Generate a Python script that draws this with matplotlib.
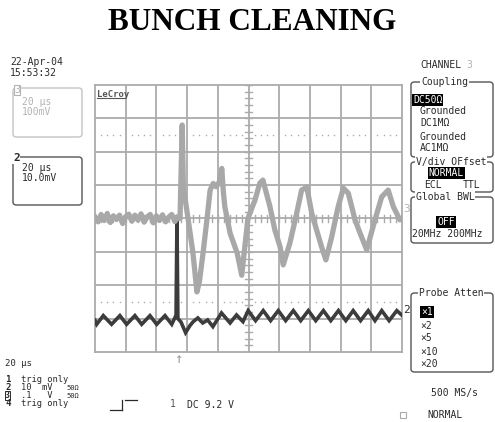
import matplotlib.pyplot as plt
from matplotlib.patches import FancyBboxPatch, Rectangle
from matplotlib.lines import Line2D

W, H = 495, 422

# channel 3 (100 mV/div, ground at centre line)
ch3_t = [0, 2, 4, 6, 8, 10, 12, 14, 16, 18, 20, 22, 24, 26, 28, 30, 32, 34, 36, 38,
         40, 42, 44, 46, 48, 50, 52, 54,
         55.4, 56.8, 57.6, 60.6, 63.8, 66.4, 68.0, 70.4, 73.0, 75.0, 77.0, 79.0,
         81.0, 82.6, 83.6, 84.6, 88.0, 92.6, 95.6, 99.6, 104.2, 107.4, 109.4, 114.0,
         117.2, 120.6, 122.6, 127.0, 131.4, 134.6, 138.0, 141.2, 144.4, 147.6, 150.4,
         154.2, 158.4, 161.8, 165.0, 169.4, 172.6, 177.0, 182.4, 186.8, 191.0, 194.4,
         198.6, 200]
ch3_mv = [5, -10, 12, -6, 15, -12, 8, -3, 10, -15, 6, 13, -8, 10, -5, 14, -11, 5, 12, -13,
          8, -6, 11, -10, 4, 12, -9, 6,
          0, 280, 94, 0, -103, -220, -190, -103, 0, 85, 105, 95,
          110, 150, 80, 35, -44, -103, -170, 0, 55, 106, 115, 35,
          -35, -85, -139, -73, 16, 85, 94, 16, -35, -85, -124,
          -55, 35, 91, 76, -4, -43, -94, -4, 65, 85, 35,
          -4, 0]

# channel 2 (10 mV/div, ground three divisions below centre)
ch2_t = [0, 1.1, 5.4, 10.8, 16.2, 20.6, 26.0, 30.4, 35.8, 40.2, 45.6, 50.0, 52.8,
         53.4, 54.0, 56.0, 59.0, 62.0, 64.0, 67.0, 70.2, 73.4, 76.8, 82.4, 88.0,
         92.2, 96.4, 99.8, 104.6, 109.6, 114.4, 119.4, 124.2, 129.2, 134.0, 139.0,
         143.8, 148.8, 153.6, 158.6, 163.4, 168.2, 173.0, 178.0, 182.4, 186.8, 191.6,
         196.6, 200]
ch2_mv = [-0.5, -1.7, 0.9, -1.7, 0.9, -1.7, 0.9, -1.7, 0.9, -1.7, 0.9, -1.7, 1.0,
          29.7, 0.0, -1.0, -4.2, -2.0, -0.9, 0.2, -1.3, -0.4, -2.4, 1.7, -1.3,
          1.1, -0.9, 2.4, -0.6, 2.4, -0.6, 2.4, -0.6, 2.4, -0.6, 2.4,
          -0.6, 2.4, -0.6, 2.4, -0.6, 2.4, -0.6, 2.4, -0.6, 2.4, -0.6,
          2.4, 1.0]

ch3_scale, ch2_scale, ch2_offset = 100, 10, -3

grid_c = '#ababab'
light = '#b2b2b2'
dark = '#2a2a2a'
mono = ['DejaVu Sans Mono', 'DejaVu Sans']

fig = plt.figure(figsize=(W / 100, H / 100), dpi=100)
ax = fig.add_axes([95 / W, 1 - 352 / H, 307 / W, 267 / H])
ax.set_xlim(0, 200)
ax.set_ylim(-4, 4)
ax.set_xticks([])
ax.set_yticks([])
for s in ax.spines.values():
    s.set_color(grid_c)
    s.set_linewidth(1.3)

# graticule
for i in range(1, 10):
    ax.axvline(i * 20, color=grid_c, lw=1.3, zorder=1)
for j in range(-3, 4):
    ax.axhline(j, color=grid_c, lw=1.3, zorder=1)
for k in range(-20, 21):
    ax.plot([97.6, 102.4], [k * 0.2, k * 0.2], color=grid_c, lw=1, zorder=1)
for k in range(0, 51):
    ax.plot([k * 4, k * 4], [-0.09, 0.09], color=grid_c, lw=1, zorder=1)
dots = [i * 20 + k * 4 for i in range(10) for k in range(1, 5)]
for yy in (2.5, -2.5):
    ax.plot(dots, [yy] * len(dots), ls='none', marker='s', ms=1.0, color=grid_c,
            mec='none', zorder=1)

# traces
ax.plot(ch2_t, [v / ch2_scale + ch2_offset for v in ch2_mv], color='#3c3c3c', lw=2.6,
        zorder=3, solid_joinstyle='miter')
ax.plot(ch3_t, [v / ch3_scale for v in ch3_mv], color='#a8a8a8', lw=3.8, zorder=4)

ax.text(1, 3.85, 'LeCroy', fontsize=6.5, family=mono, color='#555555', va='top',
        ha='left', fontweight='bold')
ax.plot([1, 19], [3.62, 3.62], color='#555555', lw=0.8)


def put(x, y, s, size=7, color=dark, **kw):
    return fig.text(x / W, 1 - y / H, s, va='center', ha=kw.pop('ha', 'left'),
                    family=kw.pop('family', mono), fontsize=size, color=color, **kw)


def box(x0, y0, x1, y1, ec):
    fig.patches.append(FancyBboxPatch((x0 / W, 1 - y1 / H), (x1 - x0) / W, (y1 - y0) / H,
                                      boxstyle='round,pad=0,rounding_size=0.007',
                                      transform=fig.transFigure, fc='none', ec=ec, lw=1))


white = dict(facecolor='white', edgecolor='none', pad=0.4)
black = dict(facecolor='black', edgecolor='none', pad=0.6)

put(252, 22, 'BUNCH CLEANING', size=22.5, ha='center', family='Liberation Serif',
    fontweight='bold', color='black')

# left column
put(10, 62, '22-Apr-04')
put(10, 73, '15:53:32')
box(13, 88, 82, 137, '#c4c4c4')
put(14, 90, '3', color=light, bbox=dict(facecolor='white', edgecolor=light, pad=0.3, lw=0.8))
put(22, 102, '20 µs', color=light)
put(22, 112, '100mV', color=light)
box(13, 157, 82, 205, '#555555')
put(13, 158, '2', size=8, fontweight='bold', bbox=white)
put(22, 168, '20 µs')
put(22, 178, '10.0mV')

put(5, 363, '20 µs', size=6.5)
put(5, 379, '1', size=6.5, fontweight='bold')
put(21, 379, 'trig only', size=6.3)
put(5, 387.5, '2', size=6.5, fontweight='bold')
put(21, 387.5, '10  mV', size=6.3)
put(66, 387.5, '50Ω', size=5)
put(5, 395.5, '3', size=6, fontweight='bold',
    bbox=dict(facecolor='white', edgecolor=dark, pad=0.1, lw=0.7))
put(21, 395.5, '.1   V', size=6.3)
put(66, 395.5, '50Ω', size=5)
put(5, 403.5, '4', size=6.5, fontweight='bold')
put(21, 403.5, 'trig only', size=6.3)

# bottom centre
for xs, ys in (([110, 121.5], [410, 410]), ([121.5, 121.5], [410, 400]), ([125, 137], [400, 400])):
    fig.lines.append(Line2D([v / W for v in xs], [1 - v / H for v in ys],
                            transform=fig.transFigure, color=dark, lw=0.9))
put(170, 404, '1', color='#555555')
put(187, 405, 'DC 9.2 V')
put(178, 359, '↑', size=10, ha='center', color='#999999')

# trace markers on the right edge
put(403, 209, '3', size=8, color=light)
put(403, 310, '2', size=8, color=dark)

# right column
put(420, 65, 'CHANNEL')
put(466, 65, '3', color=light)
box(411, 82, 493, 157, '#555555')
put(421, 82, 'Coupling', bbox=white)
put(413, 100, 'DC50Ω', color='white', bbox=black)
put(420, 111, 'Grounded')
put(420, 123, 'DC1MΩ')
put(420, 137, 'Grounded')
put(420, 148, 'AC1MΩ')

box(411, 162, 493, 192, '#555555')
put(416, 162, 'V/div OFfset', bbox=white)
put(446, 173, 'NORMAL', ha='center', color='white', bbox=black)
put(424, 185, 'ECL')
put(463, 185, 'TTL')

box(411, 197, 493, 243, '#555555')
put(416, 197, 'Global BWL', bbox=white)
put(446, 222, 'OFF', ha='center', color='white', bbox=black)
put(412, 234, '20MHz 200MHz')

box(411, 293, 493, 372, '#555555')
put(419, 293, 'Probe Atten', bbox=white)
put(421, 312, '×1', color='white', bbox=black)
put(420, 326, '×2')
put(420, 338, '×5')
put(420, 352, '×10')
put(420, 364, '×20')

put(431, 393, '500 MS/s')
fig.patches.append(Rectangle((400 / W, 1 - 418 / H), 6 / W, 6 / H, transform=fig.transFigure,
                             fc='none', ec='#aaaaaa', lw=0.8))
put(427, 415, 'NORMAL')

fig.savefig('out.png', dpi=100)
